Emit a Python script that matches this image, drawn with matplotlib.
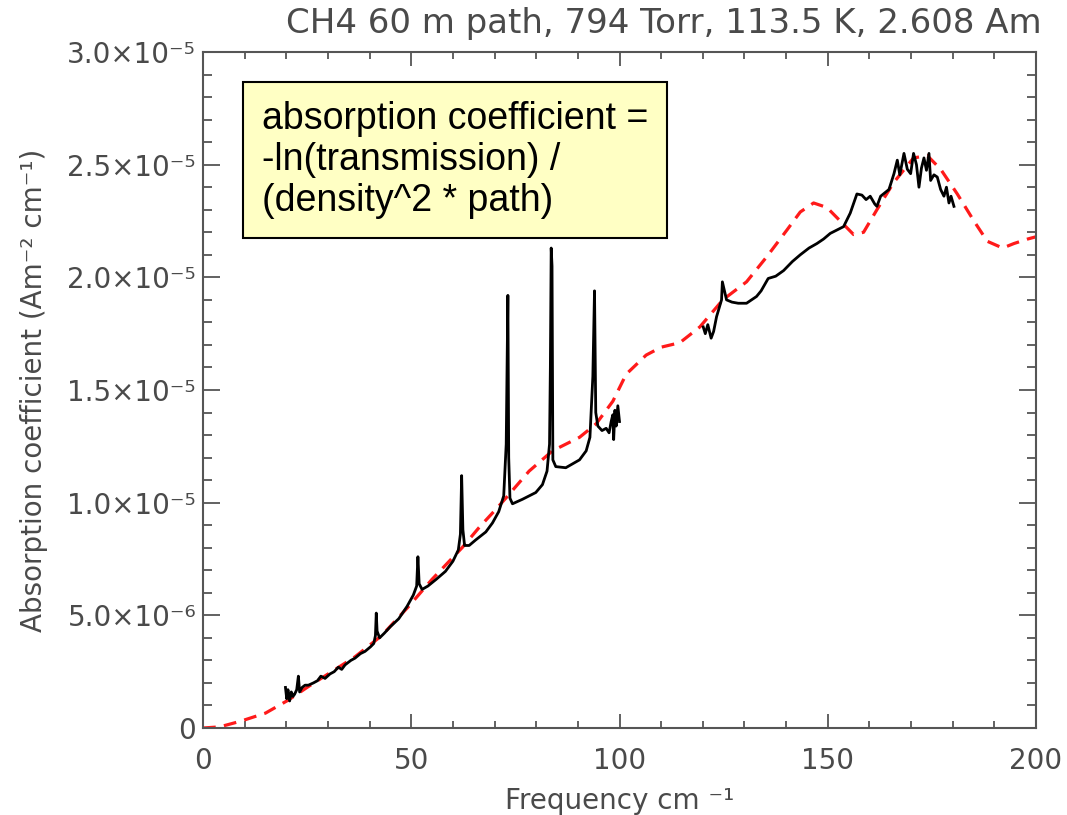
import matplotlib
matplotlib.use('Agg')
import matplotlib.pyplot as plt
from matplotlib.ticker import MultipleLocator, FuncFormatter

# model curve (red dashed), y in units of 1e-6
model_x = [0, 4, 9, 15, 20.5, 25.3, 30.9, 36.5, 42.9, 49.4, 55, 62.2, 66.3, 70.3,
           72.7, 78.3, 83.9, 90.4, 94.4, 98.4, 101.6, 106.4, 110, 114.5, 119.3,
           124.8, 130.5, 135.3, 140.2, 143.4, 146.6, 149.8, 153, 156.2, 158.6,
           161.8, 165.8, 170.6, 173.9, 177.1, 181.1, 185.1, 188.3, 192, 194.7, 198, 200]
model_y = [0, 0.05, 0.3, 0.66, 1.24, 1.84, 2.5, 3.16, 4.1, 5.4, 6.6, 8.0, 8.9, 9.7,
           10.2, 11.4, 12.3, 12.9, 13.5, 14.5, 15.7, 16.55, 16.9, 17.1, 17.8,
           19.0, 19.8, 20.9, 22.1, 22.9, 23.3, 23.1, 22.5, 21.9, 22.0,
           23.0, 24.2, 25.3, 25.4, 24.8, 23.7, 22.5, 21.6, 21.3, 21.5, 21.7, 21.8]

# measured spectrum, low frequency part
meas1_x = [19.8, 20.1, 20.4, 20.8, 21.2, 21.6, 22.0, 22.5, 22.9, 23.2, 23.8, 24.5,
           25.3, 26.5, 27.5, 28.3, 29.3, 30.5, 31.5, 32.5, 33.3, 34.1, 35.5, 36.5,
           37.8, 38.9, 40.2, 41.0, 41.4, 41.6, 41.8, 42.4, 43.5, 45, 47, 49, 50.5,
           51.3, 51.6, 51.9, 52.6, 54, 56, 58.2, 60, 61.3, 61.8, 62.1, 62.4, 62.8,
           63.9, 65.5, 67.9, 69.5, 71, 72.2, 72.8, 73.0, 73.2, 73.4, 73.7, 74.3,
           76.7, 79.9, 81.5, 82.6, 83.2, 83.4, 83.6, 83.8, 84.0, 84.7, 87.1, 90.4,
           92.0, 92.9, 93.6, 94.0, 94.3, 94.8, 95.8, 96.8, 97.5, 98.0, 98.4, 98.6,
           98.9, 99.2, 99.6, 100.0]
meas1_y = [1.8, 1.3, 1.7, 1.2, 1.6, 1.4, 1.5, 1.7, 2.3, 1.6, 1.8, 1.9,
           1.9, 2.0, 2.1, 2.3, 2.2, 2.4, 2.5, 2.7, 2.6, 2.8, 3.0, 3.1,
           3.3, 3.4, 3.6, 3.75, 4.1, 5.1, 4.3, 4.0, 4.2, 4.5, 4.85, 5.4, 5.9,
           6.3, 7.6, 6.4, 6.15, 6.3, 6.6, 6.95, 7.4, 7.9, 8.6, 11.2, 8.8, 8.1,
           8.1, 8.35, 8.7, 9.1, 9.6, 10.3, 12.6, 15.9, 19.2, 12.0, 10.2, 9.95,
           10.15, 10.45, 10.8, 11.4, 12.6, 16.0, 21.3, 20.5, 11.9, 11.6, 11.55, 11.9,
           12.3, 12.9, 15.6, 19.4, 14.0, 13.4, 13.2, 13.3, 13.1, 13.6, 13.9, 12.8,
           14.1, 13.4, 14.3, 13.6]

# measured spectrum, high frequency part
meas2_x = [120.1, 120.6, 121.2, 122, 122.6, 123.3, 124.5, 124.7, 125.7, 127, 128.5,
           130.5, 132.9, 134, 135.7, 137.5, 139.4, 141.5, 143.4, 145.5, 147.4, 149,
           150.6, 153.8, 155.4, 157, 158.2, 159.2, 160.2, 161.3, 161.8, 162.7, 164.7,
           165.9, 166.7, 167.3, 168.3, 169.1, 169.9, 170.6, 171.3, 171.9, 172.5,
           173.1, 173.7, 174.3, 174.7, 175.5, 176.3, 177.1, 177.9, 178.5, 179.1,
           179.6, 180.3]
meas2_y = [17.8, 17.5, 17.9, 17.3, 17.6, 18.25, 19.0, 19.8, 19.0, 18.9, 18.85,
           18.85, 19.15, 19.4, 19.95, 20.05, 20.3, 20.7, 21.0, 21.3, 21.5, 21.7,
           21.95, 22.25, 22.85, 23.7, 23.65, 23.45, 23.6, 23.25, 23.15, 23.6, 23.9,
           24.6, 25.2, 24.55, 25.5, 24.8, 24.6, 25.5, 25.0, 24.0, 24.85,
           25.3, 24.75, 25.5, 24.3, 24.55, 24.45, 23.9, 23.6, 24.0, 23.3,
           23.6, 23.15]

title = 'CH4 60 m path, 794 Torr, 113.5 K, 2.608 Am'
note = 'absorption coefficient =\n-ln(transmission) /\n(density^2 * path)'

axis_font = ['Liberation Sans Narrow', 'DejaVu Sans']
grey = '#555555'
txt_grey = '#4a4a4a'


def fmt_y(v, pos):
    if abs(v) < 1e-12:
        return '0'
    exp = -5 if v >= 1e-5 - 1e-12 else -6
    sup = {-5: '\u207b\u2075', -6: '\u207b\u2076'}[exp]
    return '%.1f\u00d710%s' % (v / 10 ** exp, sup)


def main():
    fig = plt.figure(figsize=(10.67, 8.15), dpi=100)
    ax = fig.add_axes([203 / 1067, 1 - 728 / 815, 833 / 1067, 676 / 815])

    ax.plot(model_x, [v * 1e-6 for v in model_y], color='#ff1a1a', lw=2.3,
            dashes=(4, 2.6))
    ax.plot(meas1_x, [v * 1e-6 for v in meas1_y], color='black', lw=2.0)
    ax.plot(meas2_x, [v * 1e-6 for v in meas2_y], color='black', lw=2.0)

    ax.set_xlim(0, 200)
    ax.set_ylim(0, 3.0e-5)
    ax.xaxis.set_major_locator(MultipleLocator(50))
    ax.xaxis.set_minor_locator(MultipleLocator(10))
    ax.yaxis.set_major_locator(MultipleLocator(5e-6))
    ax.yaxis.set_minor_locator(MultipleLocator(1e-6))
    ax.yaxis.set_major_formatter(FuncFormatter(fmt_y))

    for s in ax.spines.values():
        s.set_color(grey)
        s.set_linewidth(1.5)
    ax.tick_params(axis='both', which='both', direction='in', top=True, right=True,
                   color=grey, width=1.3, labelcolor=txt_grey)
    ax.tick_params(axis='x', which='major', length=10, pad=14, labelsize=20)
    ax.tick_params(axis='x', which='minor', length=5)
    ax.tick_params(axis='y', which='major', length=12, pad=5, labelsize=20)
    ax.tick_params(axis='y', which='minor', length=6.5)
    for lab in ax.get_xticklabels() + ax.get_yticklabels():
        lab.set_family(axis_font)

    ax.set_xlabel('Frequency cm \u207b\u00b9', family=axis_font, fontsize=20,
                  color=txt_grey, labelpad=8)
    ax.set_ylabel('Absorption coefficient (Am\u207b\u00b2 cm\u207b\u00b9)',
                  family=axis_font, fontsize=20, color=txt_grey, labelpad=14)

    fig.text(664 / 1067, 1 - 33 / 815, title, family=axis_font, fontsize=24.5,
             color=txt_grey, ha='center', va='baseline')

    ax.text(0.0705, 0.928, note, transform=ax.transAxes, family='Liberation Sans',
            fontsize=27, color='black', ha='left', va='top', linespacing=1.18,
            bbox=dict(boxstyle='square,pad=0.5', facecolor='#ffffc4',
                      edgecolor='black', linewidth=1.5))

    fig.savefig('out.png', dpi=100)


if __name__ == '__main__':
    main()
